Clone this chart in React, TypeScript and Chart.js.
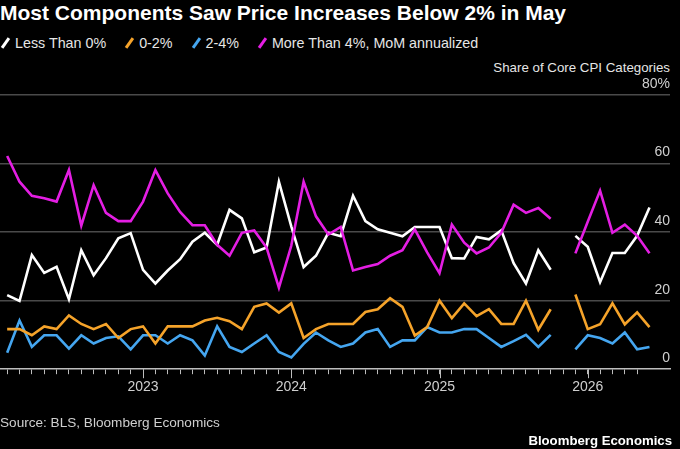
import { useEffect, useRef } from 'react'
import { Chart, registerables } from 'chart.js'

Chart.register(...registerables)

const FONT = '"Liberation Sans", Arial, sans-serif'

// monthly readings, Jan 2022 .. May 2026 (Oct 2025 missing)
const START_YEAR = 2022
const lessThan0 = [
  21.6, 19.9, 33.3, 28.1, 29.9, 20.4, 34.7, 27.4, 32.4, 38.2, 39.7, 29.0,
  25.0, 28.8, 32.1, 37.2, 39.8, 36.3, 46.5, 44.0, 34.1, 35.5, 54.7, 41.7,
  29.8, 33.1, 39.8, 38.8, 50.6, 43.2, 40.8, 39.8, 38.8, 41.5, 41.5, 41.5,
  32.4, 32.3, 38.6, 37.9, 40.5, 30.9, 25.0, 34.7, 29.0, null, 38.9, 35.7,
  25.4, 33.9, 33.9, 38.9, 47.2,
]
const zeroTo2 = [
  11.7, 11.7, 9.9, 12.5, 11.7, 15.7, 13.2, 11.7, 13.2, 9.1, 11.7, 12.5,
  7.5, 12.5, 12.5, 12.5, 14.2, 15.0, 14.0, 11.7, 18.2, 19.2, 16.5, 19.2,
  9.1, 11.7, 13.2, 13.2, 13.2, 16.7, 17.5, 20.7, 18.2, 9.8, 12.3, 20.0,
  14.9, 19.2, 15.5, 17.5, 13.2, 13.2, 20.0, 11.5, 17.5, null, 21.8, 11.7,
  13.1, 19.2, 13.1, 16.6, 12.3,
]
const twoTo4 = [
  4.8, 14.2, 6.5, 9.9, 9.9, 6.0, 9.9, 7.5, 9.1, 9.6, 5.8, 9.9,
  9.9, 7.5, 9.9, 8.4, 4.0, 12.5, 6.5, 5.0, 7.5, 9.9, 5.0, 3.4,
  7.4, 10.7, 8.4, 6.5, 7.5, 10.7, 11.7, 6.5, 8.4, 8.4, 12.3, 10.7,
  10.7, 11.7, 11.7, 9.1, 6.5, 8.2, 10.0, 6.5, 10.0, null, 5.8, 9.9,
  9.1, 7.5, 10.7, 5.8, 6.5,
]
const moreThan4 = [
  62.2, 54.7, 50.6, 49.9, 48.9, 58.1, 41.9, 53.7, 45.6, 43.2, 43.2, 48.9,
  58.1, 51.3, 45.9, 42.0, 42.0, 36.3, 33.1, 39.8, 40.5, 35.5, 23.8, 36.0,
  54.7, 44.6, 39.3, 41.5, 28.8, 29.8, 30.7, 33.1, 34.7, 40.8, 34.1, 28.0,
  42.2, 36.9, 33.8, 35.5, 39.8, 48.0, 45.6, 47.0, 43.9, null, 33.8, 43.0,
  52.1, 39.8, 42.2, 38.9, 33.8,
]

const seriesNames = ['Less Than 0%', '0-2%', '2-4%', 'More Than 4%, MoM annualized']
const seriesColors = ['#ffffff', '#f5a32a', '#45a6f0', '#e41ee3']
const yTicks = [0, 20, 40, 60, 80]

// each month's value sits at its month-end (= start of next month)
const toPoints = (vals: (number | null)[]) => vals.map((y, i) => ({ x: i + 1, y }))

const majorTicks = {
  id: 'majorTicks',
  afterDraw(chart: any) {
    const s = chart.scales.x
    const ctx = chart.ctx
    ctx.save()
    ctx.strokeStyle = '#bdbdbd'
    ctx.lineWidth = 1
    s.ticks.forEach((t: any) => {
      if (t.value % 12 !== 0) return
      const px = Math.round(s.getPixelForValue(t.value)) + 0.5
      ctx.beginPath()
      ctx.moveTo(px, s.top)
      ctx.lineTo(px, s.top + 9)
      ctx.stroke()
    })
    ctx.restore()
  },
}

function CpiChart() {
  const ref = useRef<HTMLCanvasElement>(null)
  const chart = useRef<Chart | null>(null)

  useEffect(() => {
    if (!ref.current) return
    chart.current?.destroy()
    const all = [lessThan0, zeroTo2, twoTo4, moreThan4]
    const order = [3, 0, 1, 2]
    chart.current = new Chart(ref.current, {
      type: 'line',
      data: {
        datasets: order.map(k => ({
          label: seriesNames[k],
          data: toPoints(all[k]),
          borderColor: seriesColors[k],
          backgroundColor: seriesColors[k],
          borderWidth: 2.6,
          pointRadius: 0,
          tension: 0,
          spanGaps: false,
        })),
      },
      options: {
        animation: false,
        responsive: false,
        maintainAspectRatio: false,
        layout: { padding: { top: 95, right: 10, bottom: 48, left: 0 } },
        plugins: { legend: { display: false }, tooltip: { enabled: false } },
        scales: {
          x: {
            type: 'linear',
            min: 0.42,
            max: 54.66,
            afterBuildTicks: (s: any) => { s.ticks = s.ticks.filter((t: any) => t.value >= 1 && t.value <= 52) },
            ticks: {
              stepSize: 1, autoSkip: false, maxRotation: 0, includeBounds: false,
              color: '#cfcfcf', font: { family: FONT, size: 14 }, padding: 5,
              callback: (v: any) => (v % 12 === 0 ? String(START_YEAR + v / 12) : ''),
            },
            grid: { drawOnChartArea: false, tickLength: 5, tickColor: '#bdbdbd', tickWidth: 1 },
            border: { color: '#bdbdbd', width: 1.5 },
          },
          y: {
            position: 'right',
            min: 0,
            max: 80,
            afterBuildTicks: (s: any) => { s.ticks = yTicks.map(value => ({ value })) },
            ticks: {
              mirror: true, padding: 0, labelOffset: -11,
              color: '#cfcfcf', font: { family: FONT, size: 14 },
              callback: (v: any) => (v === 80 ? '80%' : String(v)),
            },
            grid: { drawTicks: false, color: (c: any) => (c.tick?.value === 0 ? 'rgba(0,0,0,0)' : '#4a4a4a'), lineWidth: 1.5 },
            border: { display: false },
          },
        },
      } as any,
      plugins: [majorTicks],
    })
    return () => chart.current?.destroy()
  }, [])

  return <canvas ref={ref} width={680} height={449} style={{ position: 'absolute', left: 0, top: 0 }} />
}

function LegendItem({ name, color }: { name: string; color: string }) {
  return (
    <span style={{ display: 'inline-flex', alignItems: 'center', marginRight: 18 }}>
      <span style={{ display: 'inline-block', width: 3, height: 12, background: color, transform: 'rotate(35deg)', marginRight: 8, marginLeft: 4 }} />
      <span>{name}</span>
    </span>
  )
}

export default function App() {
  return (
    <div style={{ position: 'fixed', left: 0, top: 0, width: 680, height: 449, background: '#000', overflow: 'hidden', fontFamily: FONT }}>
      <div style={{ position: 'absolute', left: 0, top: 1, color: '#fff', fontWeight: 700, fontSize: 21, whiteSpace: 'nowrap' }}>
        Most Components Saw Price Increases Below 2% in May
      </div>
      <div style={{ position: 'absolute', left: 0, top: 35, color: '#e6e6e6', fontSize: 14.3, whiteSpace: 'nowrap', display: 'flex' }}>
        {seriesNames.map((n, i) => <LegendItem key={n} name={n} color={seriesColors[i]} />)}
      </div>
      <div style={{ position: 'absolute', right: 10, top: 60, color: '#e6e6e6', fontSize: 13.3, whiteSpace: 'nowrap' }}>
        Share of Core CPI Categories
      </div>
      <CpiChart />
      <div style={{ position: 'absolute', left: 0, top: 415, color: '#cfcfcf', fontSize: 13.6, whiteSpace: 'nowrap' }}>
        Source: BLS, Bloomberg Economics
      </div>
      <div style={{ position: 'absolute', right: 8, top: 433, color: '#fff', fontWeight: 700, fontSize: 13.2, whiteSpace: 'nowrap' }}>
        Bloomberg Economics
      </div>
    </div>
  )
}
